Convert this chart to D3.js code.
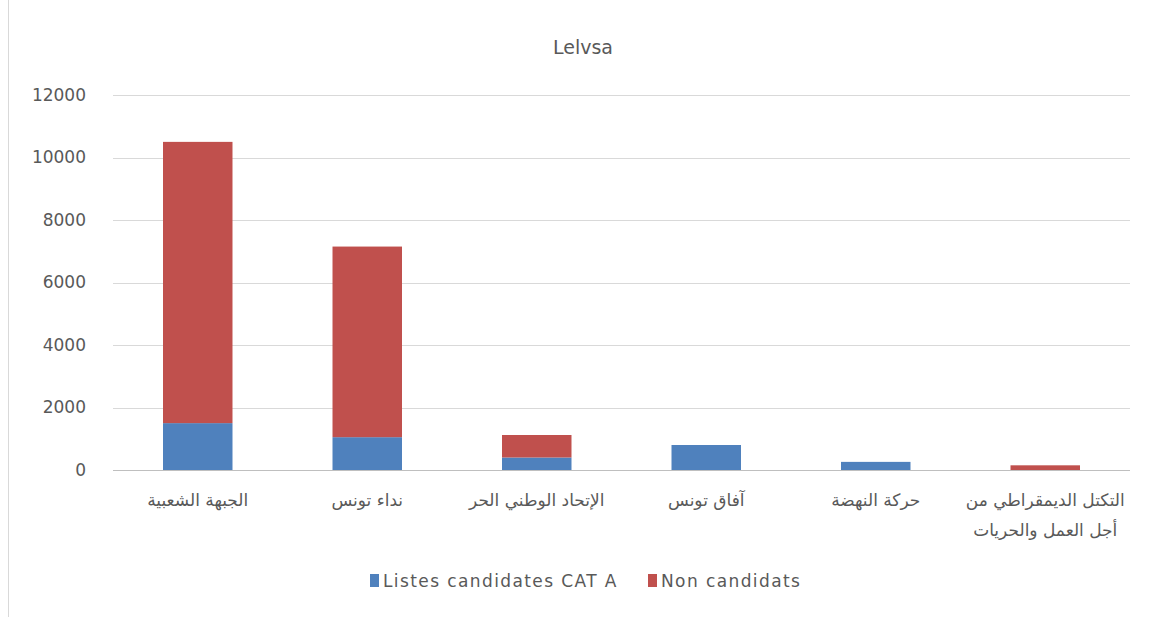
<!DOCTYPE html>
<html><head><meta charset="utf-8">
<script src="https://cdn.jsdelivr.net/npm/d3@7"></script>
<style>body{margin:0;background:#fff;}svg{display:block;font-family:"DejaVu Sans",sans-serif;}</style>
</head><body>
<svg id="c" width="1155" height="617"></svg>
<script>
const title = "Lelvsa";
const categories = [
  ["الجبهة الشعبية"],
  ["نداء تونس"],
  ["الإتحاد الوطني الحر"],
  ["آفاق تونس"],
  ["حركة النهضة"],
  ["التكتل الديمقراطي من", "أجل العمل والحريات"]
];
const seriesNames = ["Listes candidates CAT A", "Non candidats"];
const candidates = [1500, 1050, 400, 800, 260, 0];
const nonCandidates = [9000, 6100, 720, 0, 0, 150];
const yTicks = [0, 2000, 4000, 6000, 8000, 10000, 12000];
const colors = ["#4f81bd", "#c0504d"];

(function () {
const svg = d3.select("#c");
const mLeft = 113, mRight = 1130, mTop = 95, mBottom = 470;
svg.append("line").attr("x1", 8.5).attr("x2", 8.5).attr("y1", 0).attr("y2", 617).attr("stroke", "#d9d9d9");

const x = d3.scaleBand().domain(d3.range(categories.length)).range([mLeft, mRight]).paddingInner(0.59).paddingOuter(0.295);
const y = d3.scaleLinear().domain([0, 12000]).range([mBottom, mTop]);

// gridlines
svg.append("g").selectAll("line").data(yTicks).join("line")
  .attr("x1", mLeft).attr("x2", mRight)
  .attr("y1", d => Math.round(y(d)) + 0.5).attr("y2", d => Math.round(y(d)) + 0.5)
  .attr("stroke", d => d === 0 ? "#bfbfbf" : "#d9d9d9").attr("stroke-width", 1);

// y axis labels
const yAxis = d3.axisLeft(y).tickValues(yTicks).tickSize(0).tickPadding(0).tickFormat(d3.format("d"));
const yg = svg.append("g").attr("transform", "translate(86,0)").call(yAxis);
yg.select(".domain").remove();
yg.attr("font-family", null).attr("font-size", null);
yg.selectAll("text").attr("font-size", 17).attr("fill", "#595959");

// stacked data
const data = categories.map((c, i) => ({i, cand: candidates[i], non: nonCandidates[i]}));
const stack = d3.stack().keys(["cand", "non"])(data);
svg.append("g").selectAll("g").data(stack).join("g").attr("fill", (d, k) => colors[k])
  .selectAll("rect").data(d => d).join("rect")
  .attr("x", d => x(d.data.i)).attr("width", x.bandwidth())
  .attr("y", d => y(d[1])).attr("height", d => y(d[0]) - y(d[1]));

// category labels
const cg = svg.append("g");
categories.forEach((lines, i) => {
  const t = cg.append("text").attr("text-anchor", "middle").attr("direction", "rtl")
    .attr("font-size", 17).attr("fill", "#595959");
  lines.forEach((ln, j) => {
    t.append("tspan").attr("x", x(i) + x.bandwidth() / 2).attr("y", 506 + j * 30).text(ln);
  });
});

// title
svg.append("text").attr("x", 583).attr("y", 54).attr("text-anchor", "middle")
  .attr("font-size", 19).attr("fill", "#595959").text(title);

// legend
const legend = [{x: 370, name: seriesNames[0], c: colors[0]}, {x: 648, name: seriesNames[1], c: colors[1]}];
legend.forEach(l => {
  svg.append("rect").attr("x", l.x).attr("y", 574).attr("width", 9).attr("height", 13).attr("fill", l.c);
  svg.append("text").attr("x", l.x + 13).attr("y", 587).attr("font-size", 17)
    .attr("letter-spacing", 1.4).attr("fill", "#595959").text(l.name);
});
})();
</script>
</body></html>
